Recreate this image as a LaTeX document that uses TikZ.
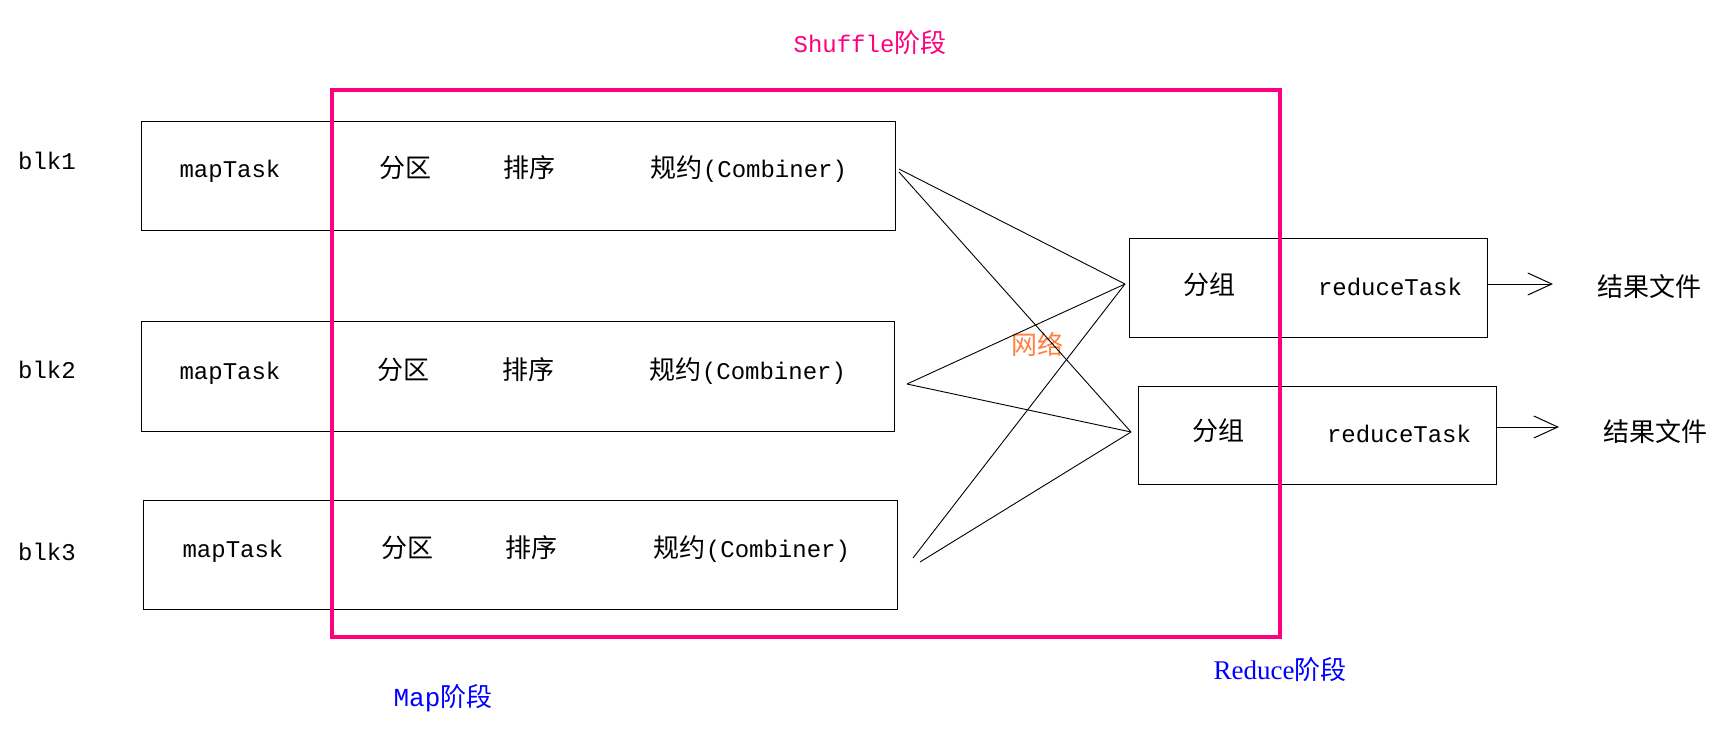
\documentclass[tikz,border=0pt]{standalone}
\usepackage{fontspec}
\setmainfont{Liberation Mono}
\newfontfamily\cjkfam{Noto Sans CJK SC}
\newfontfamily\serifl{Liberation Serif}
\usetikzlibrary{arrows.meta}
\definecolor{shufflepink}{RGB}{255,0,128}
\definecolor{mapblue}{RGB}{0,0,255}
\definecolor{netorange}{RGB}{255,128,64}
\newcommand\zhtext[1]{{\cjkfam\fontsize{13}{15}\selectfont #1}}
\begin{document}
\begin{tikzpicture}[x=0.5pt,y=-0.5pt,
  txt/.style={inner sep=0pt,anchor=base,font=\fontsize{12}{14}\selectfont},
  box/.style={draw,line width=0.6pt,inner sep=0pt,anchor=north west},
  link/.style={line width=0.45pt},
  outarrow/.style={line width=0.5pt,-{Straight Barb[length=12pt,width=11pt]}},
]
\useasboundingbox (0,0) rectangle (1725,729);

% map boxes
\node[box,minimum width=377pt,minimum height=54.5pt] (m1) at (141,121) {};
\node[box,minimum width=376.5pt,minimum height=55pt] (m2) at (141,321) {};
\node[box,minimum width=377pt,minimum height=54.5pt] (m3) at (143,500) {};
% reduce boxes
\node[box,minimum width=179pt,minimum height=49.5pt] (r1) at (1129,238) {};
\node[box,minimum width=179pt,minimum height=49pt] (r2) at (1138,386) {};

% shuffle frame
\node[draw=shufflepink,line width=2pt,inner sep=0pt,anchor=north west,
      minimum width=474pt,minimum height=273.5pt] (shuffle) at (330,88) {};

% labels
\node[txt] (blk1) at (47,169) {blk1};
\node[txt] (blk2) at (47,378) {blk2};
\node[txt] (blk3) at (47,560) {blk3};

\node[txt] (mt1) at (230,177) {mapTask};
\node[txt] (mt2) at (230,379) {mapTask};
\node[txt] (mt3) at (233,557) {mapTask};

\node[txt] (fq1) at (405,177) {\zhtext{分区}};
\node[txt] (fq2) at (403,379) {\zhtext{分区}};
\node[txt] (fq3) at (407,557) {\zhtext{分区}};

\node[txt] (px1) at (529,177) {\zhtext{排序}};
\node[txt] (px2) at (528,379) {\zhtext{排序}};
\node[txt] (px3) at (531,557) {\zhtext{排序}};

\node[txt] (gy1) at (749,177) {\zhtext{规约}(Combiner)};
\node[txt] (gy2) at (748,379) {\zhtext{规约}(Combiner)};
\node[txt] (gy3) at (752,557) {\zhtext{规约}(Combiner)};

\node[txt] (fz1) at (1209,294) {\zhtext{分组}};
\node[txt] (fz2) at (1218,440) {\zhtext{分组}};
\node[txt] (rt1) at (1390,295) {reduceTask};
\node[txt] (rt2) at (1399,442) {reduceTask};

\node[txt] (res1) at (1649,296) {\zhtext{结果文件}};
\node[txt] (res2) at (1655,441) {\zhtext{结果文件}};

\node[txt,text=shufflepink] (shufflelabel) at (870,52) {Shuffle\zhtext{阶段}};
\node[txt,text=mapblue,font=\fontsize{13}{15}\selectfont] (maplabel) at (443,706) {Map\zhtext{阶段}};
\node[txt,text=mapblue,font=\serifl\fontsize{13.5}{15}\selectfont] (reducelabel) at (1280,679) {Reduce\zhtext{阶段}};
\node[txt,text=netorange] (net) at (1037,354) {\zhtext{网络}};

% connector end points
\coordinate (c1a) at (899,169);
\coordinate (c1b) at (899,172);
\coordinate (c2) at (907,384);
\coordinate (c3a) at (913,558);
\coordinate (c3b) at (920,562);
\coordinate (in1) at (1125,284);
\coordinate (in2) at (1131,432);

\draw[link] (c1a) -- (in1);
\draw[link] (c1b) -- (in2);
\draw[link] (c2) -- (in1);
\draw[link] (c2) -- (in2);
\draw[link] (c3a) -- (in1);
\draw[link] (c3b) -- (in2);

% output arrows
\coordinate (a1) at (1553,284);
\coordinate (a2) at (1559,427);
\draw[outarrow] (r1.east |- a1) -- (a1);
\draw[outarrow] (r2.east |- a2) -- (a2);
\end{tikzpicture}
\end{document}
